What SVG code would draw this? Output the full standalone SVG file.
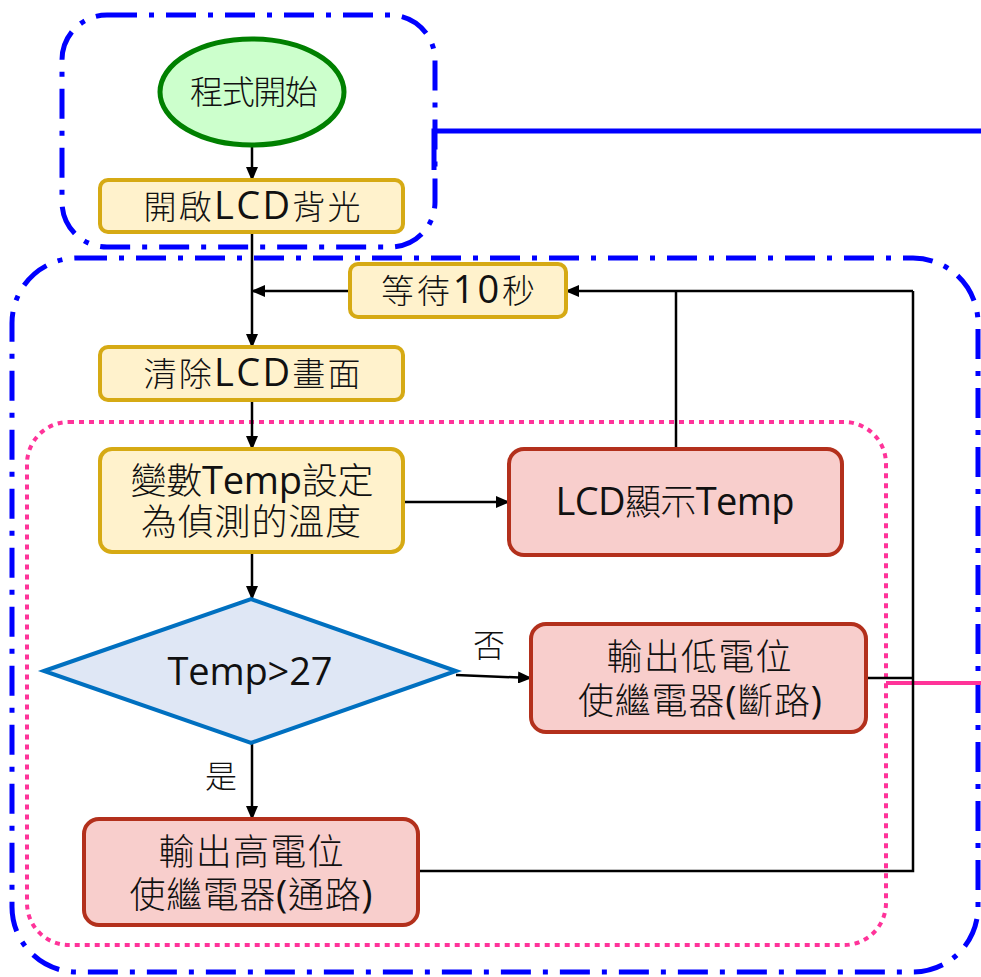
<svg xmlns="http://www.w3.org/2000/svg" width="981" height="977" viewBox="0 0 981 977">
<defs>
<marker id="arr" markerWidth="14" markerHeight="12" refX="13" refY="6" orient="auto" markerUnits="userSpaceOnUse">
<path d="M0,0 L14,6 L0,12 Z" fill="#000"/>
</marker>
<style>
text{font-family:"Noto Sans CJK TC","Noto Sans CJK SC",sans-serif;font-weight:300;font-size:33px;fill:#111;text-anchor:middle}
.big{font-size:36px}
.lbl{font-size:32px}
.lat{font-family:"Open Sans","Noto Sans",sans-serif;font-weight:400;font-size:38px}
.proc{fill:#fff2cc;stroke:#d6aa14;stroke-width:4}
.out{fill:#f8cecc;stroke:#b3301c;stroke-width:4}
.con{fill:none;stroke:#000;stroke-width:2.5}
.grp{fill:none;stroke:#0000ff;stroke-width:5;stroke-dasharray:30 12 5 12}
</style>
</defs>
<rect x="0" y="0" width="981" height="977" fill="#fff"/>
<g id="groups">
<rect x="62" y="15" width="373" height="232" rx="45" class="grp"/>
<rect x="12" y="258" width="966" height="714" rx="65" class="grp"/>
<rect x="27" y="422" width="859" height="523" rx="42" fill="none" stroke="#ff3399" stroke-width="4" stroke-dasharray="5 5"/>
<path d="M434 170 L434 131 L981 131" fill="none" stroke="#0000ff" stroke-width="5"/>
<path d="M886 683 L981 683" fill="none" stroke="#ff3399" stroke-width="4"/>
</g>
<g id="connectors">
<path class="con" d="M252 145 L252 180" marker-end="url(#arr)"/>
<path class="con" d="M252 232 L252 347" marker-end="url(#arr)"/>
<path class="con" d="M350 291 L252 291" marker-end="url(#arr)"/>
<path class="con" d="M252 400 L252 449" marker-end="url(#arr)"/>
<path class="con" d="M403 502 L509 502" marker-end="url(#arr)"/>
<path class="con" d="M252 552 L252 599" marker-end="url(#arr)"/>
<path class="con" d="M456 675 L531 678" marker-end="url(#arr)"/>
<path class="con" d="M252 743 L252 819" marker-end="url(#arr)"/>
<path class="con" d="M676 449 L676 291"/>
<path class="con" d="M913 291 L566 291" marker-end="url(#arr)"/>
<path class="con" d="M913 291 L913 871 L420 871"/>
<path class="con" d="M866 678 L913 678"/>
<text class="lbl" x="489" y="657">否</text>
<text class="lbl" x="221" y="788">是</text>
</g>
<g id="start">
<ellipse cx="252" cy="92" rx="92" ry="53" fill="#ccffcc" stroke="#008000" stroke-width="5"/>
<text x="254" y="104" textLength="128" lengthAdjust="spacing">程式開始</text>
</g>
<g id="backlight">
<rect x="100" y="180" width="303" height="52" rx="8" class="proc"/>
<text x="252" y="219" textLength="217" lengthAdjust="spacing">開啟<tspan class="lat">LCD</tspan>背光</text>
</g>
<g id="wait">
<rect x="350" y="264" width="216" height="53" rx="8" class="proc"/>
<text x="458" y="303" textLength="154" lengthAdjust="spacing">等待<tspan class="lat">10</tspan>秒</text>
</g>
<g id="clear">
<rect x="100" y="347" width="303" height="53" rx="8" class="proc"/>
<text x="252" y="386" textLength="217" lengthAdjust="spacing">清除<tspan class="lat">LCD</tspan>畫面</text>
</g>
<g id="settemp">
<rect x="100" y="449" width="303" height="103" rx="12" class="proc"/>
<text class="big" x="252" y="494" textLength="243" lengthAdjust="spacing">變數<tspan class="lat">Temp</tspan>設定</text>
<text class="big" x="251" y="535" textLength="220" lengthAdjust="spacing">為偵測的溫度</text>
</g>
<g id="display">
<rect x="509" y="449" width="333" height="106" rx="15" class="out"/>
<text class="big" x="675" y="515" textLength="239" lengthAdjust="spacing"><tspan class="lat">LCD</tspan>顯示<tspan class="lat">Temp</tspan></text>
</g>
<g id="decision">
<polygon points="44,671 251,599 456,671 251,743" fill="#dfe7f5" stroke="#0070c0" stroke-width="4"/>
<text class="lat" x="250" y="685" textLength="165" lengthAdjust="spacing">Temp&gt;27</text>
</g>
<g id="low">
<rect x="531" y="624" width="335" height="108" rx="15" class="out"/>
<text class="big" x="699" y="670" textLength="185" lengthAdjust="spacing">輸出低電位</text>
<text class="big" x="700" y="714" textLength="244" lengthAdjust="spacing">使繼電器<tspan class="lat">(</tspan>斷路<tspan class="lat">)</tspan></text>
</g>
<g id="high">
<rect x="84" y="819" width="334" height="106" rx="15" class="out"/>
<text class="big" x="251" y="865" textLength="185" lengthAdjust="spacing">輸出高電位</text>
<text class="big" x="251" y="908" textLength="243" lengthAdjust="spacing">使繼電器<tspan class="lat">(</tspan>通路<tspan class="lat">)</tspan></text>
</g>
</svg>
